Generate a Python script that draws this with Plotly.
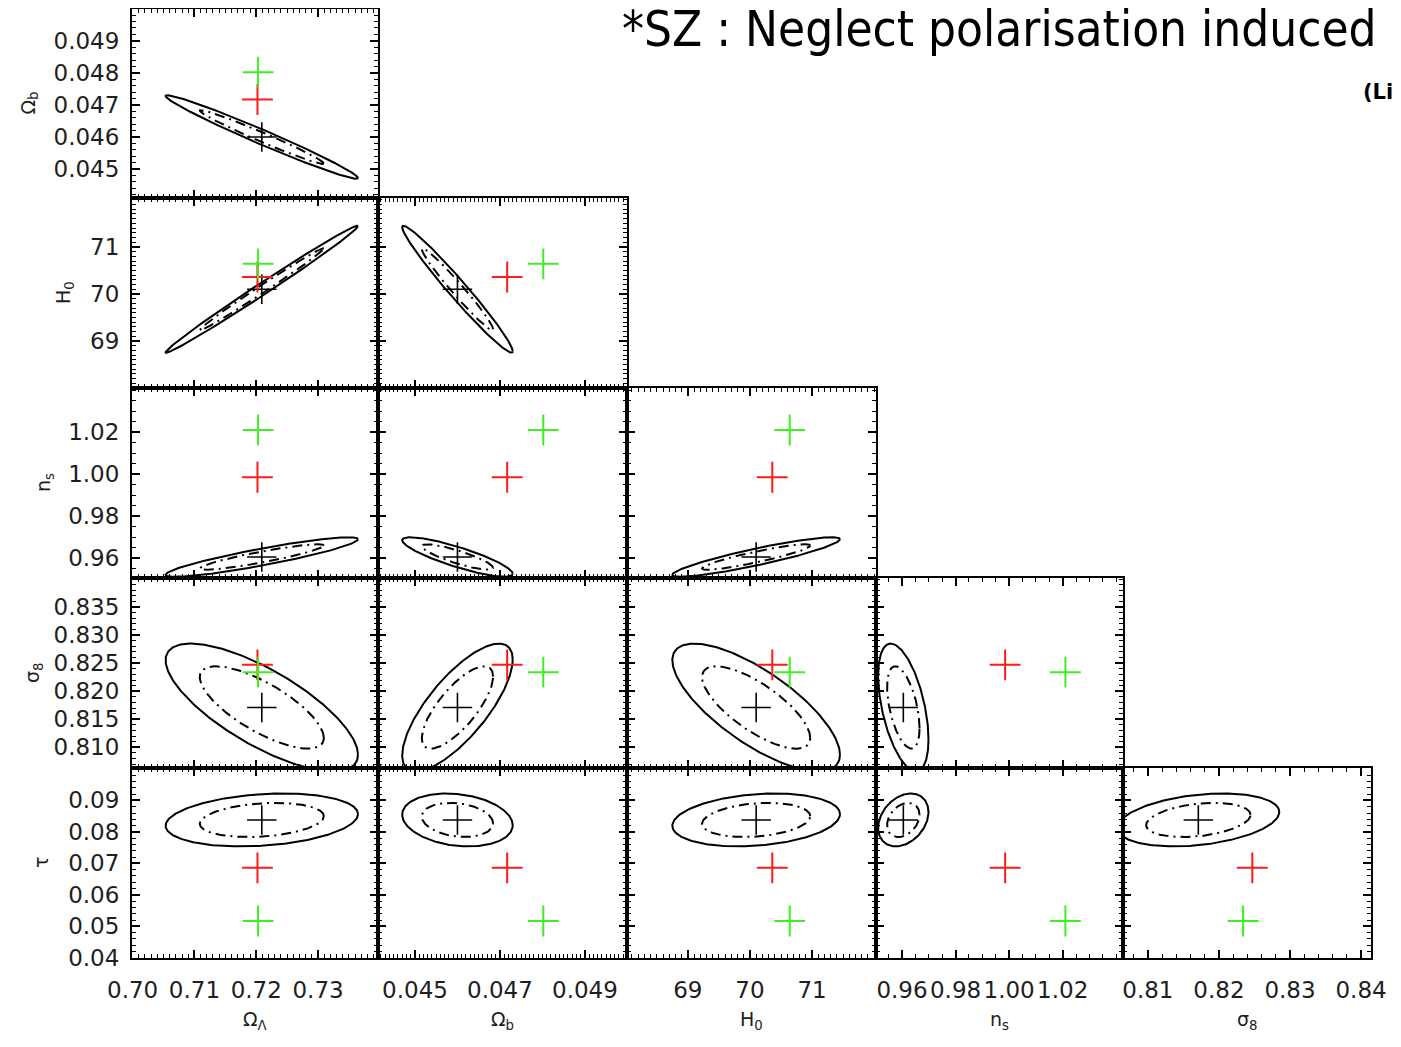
import numpy as np
import plotly.graph_objects as go

# ---------------- data ----------------
x_params = ["Omega_L", "Omega_b", "H0", "n_s", "sigma_8"]   # columns
y_params = ["Omega_b", "H0", "n_s", "sigma_8", "tau"]       # rows

param_label = {
    "Omega_L": "Ω<sub>Λ</sub>", "Omega_b": "Ω<sub>b</sub>", "H0": "H<sub>0</sub>",
    "n_s": "n<sub>s</sub>", "sigma_8": "σ<sub>8</sub>", "tau": "τ",
}

# fitted (black cross) values and 1-sigma widths
fit_center = {"Omega_L": 0.7209, "Omega_b": 0.04600, "H0": 70.10,
              "n_s": 0.9605, "sigma_8": 0.8171, "tau": 0.0838}
fit_sigma = {"Omega_L": 0.01004, "Omega_b": 0.000839, "H0": 0.871,
             "n_s": 0.00606, "sigma_8": 0.00735, "tau": 0.00542}
# red and green reference crosses
red_values = {"Omega_L": 0.7202, "Omega_b": 0.04717, "H0": 70.36,
              "n_s": 0.9985, "sigma_8": 0.8247, "tau": 0.0686}
green_values = {"Omega_L": 0.7203, "Omega_b": 0.04802, "H0": 70.64,
                "n_s": 1.021, "sigma_8": 0.8234, "tau": 0.0517}
# correlation coefficients (row param, column param)
correlation = {
    ("Omega_b", "Omega_L"): -0.982,
    ("H0", "Omega_L"): 0.994,
    ("n_s", "Omega_L"): 0.90,
    ("sigma_8", "Omega_L"): -0.74,
    ("tau", "Omega_L"): 0.22,
    ("H0", "Omega_b"): -0.977,
    ("n_s", "Omega_b"): -0.85,
    ("sigma_8", "Omega_b"): 0.75,
    ("tau", "Omega_b"): -0.20,
    ("n_s", "H0"): 0.90,
    ("sigma_8", "H0"): -0.74,
    ("tau", "H0"): 0.22,
    ("sigma_8", "n_s"): -0.50,
    ("tau", "n_s"): 0.30,
    ("tau", "sigma_8"): 0.30,
}
# contour scale factors: inner (dash-dot), outer (solid)
contour_levels = [1.0, 1.55]

# tick labels
x_tickvals = {
    "Omega_L": [0.70, 0.71, 0.72, 0.73],
    "Omega_b": [0.045, 0.047, 0.049],
    "H0": [69, 70, 71],
    "n_s": [0.96, 0.98, 1.00, 1.02],
    "sigma_8": [0.81, 0.82, 0.83, 0.84],
}
x_ticktext = {
    "Omega_L": ["0.70", "0.71", "0.72", "0.73"],
    "Omega_b": ["0.045", "0.047", "0.049"],
    "H0": ["69", "70", "71"],
    "n_s": ["0.96", "0.98", "1.00", "1.02"],
    "sigma_8": ["0.81", "0.82", "0.83", "0.84"],
}
y_tickvals = {
    "Omega_b": [0.045, 0.046, 0.047, 0.048, 0.049],
    "H0": [69, 70, 71],
    "n_s": [0.96, 0.98, 1.00, 1.02],
    "sigma_8": [0.810, 0.815, 0.820, 0.825, 0.830, 0.835],
    "tau": [0.04, 0.05, 0.06, 0.07, 0.08, 0.09],
}
y_ticktext = {
    "Omega_b": ["0.045", "0.046", "0.047", "0.048", "0.049"],
    "H0": ["69", "70", "71"],
    "n_s": ["0.96", "0.98", "1.00", "1.02"],
    "sigma_8": ["0.810", "0.815", "0.820", "0.825", "0.830", "0.835"],
    "tau": ["0.04", "0.05", "0.06", "0.07", "0.08", "0.09"],
}

# ---------------- layout settings ----------------
OFF = 8                      # page body margin
W, H = 1401 - OFF, 1047 - OFF
x_range = {"Omega_L": [0.6999, 0.7397], "Omega_b": [0.04413, 0.04999],
           "H0": [68.02, 72.03], "n_s": [0.9503, 1.0425], "sigma_8": [0.8065, 0.8414]}
y_range = {"Omega_b": [0.0441, 0.04999], "H0": [68.0, 72.04],
           "n_s": [0.9505, 1.041], "sigma_8": [0.8063, 0.8402], "tau": [0.03995, 0.1003]}
x_minor = {"Omega_L": 0.001, "Omega_b": 0.0001, "H0": 0.1, "n_s": 0.005, "sigma_8": 0.002}
y_minor = {"Omega_b": 0.0002, "H0": 0.1, "n_s": 0.005, "sigma_8": 0.001, "tau": 0.002}

# screen-pixel positions of the panels
col_px = [(132, 378), (378, 627), (627, 876), (876, 1123), (1123, 1371)]
row_px = [(9, 198), (198, 388), (388, 578), (578, 768), (768, 958)]


def fx(p):
    return (p - OFF) / W


def fy(p):
    return 1 - (p - OFF) / H


TICKFONT = dict(family="DejaVu Sans, Liberation Sans, sans-serif", size=23, color="#1e1e1e")
RED = "#ff1a1a"
GREEN = "#3cf020"

fig = go.Figure()
layout_axes = {}


def ellipse(px, py, k, n=240):
    t = np.linspace(0, 2 * np.pi, n)
    mx, my = fit_center[px], fit_center[py]
    sx, sy = fit_sigma[px], fit_sigma[py]
    rho = correlation[(py, px)]
    xs = mx + k * sx * np.cos(t)
    ys = my + k * sy * (rho * np.cos(t) + np.sqrt(1 - rho ** 2) * np.sin(t))
    return xs, ys


n = 0
for r, py in enumerate(y_params):
    for c in range(r + 1):
        px = x_params[c]
        n += 1
        xa = "x" if n == 1 else f"x{n}"
        ya = "y" if n == 1 else f"y{n}"
        xkey = "xaxis" if n == 1 else f"xaxis{n}"
        ykey = "yaxis" if n == 1 else f"yaxis{n}"

        common = dict(ticks="inside", ticklen=8, tickwidth=1.5, tickcolor="black",
                      showline=True, linecolor="black", linewidth=2, mirror="allticks",
                      showgrid=False, zeroline=False, tickfont=TICKFONT, tickmode="array",
                      automargin=False, tickangle=0)
        layout_axes[xkey] = dict(
            common, domain=[fx(col_px[c][0]), fx(col_px[c][1])], anchor=ya,
            range=x_range[px], tickvals=x_tickvals[px], ticktext=x_ticktext[px],
            showticklabels=(r == len(y_params) - 1), ticklabelstandoff=10,
            minor=dict(dtick=x_minor[px], tick0=0, ticks="inside", ticklen=4,
                       tickwidth=1, tickcolor="black", showgrid=False))
        layout_axes[ykey] = dict(
            common, domain=[fy(row_px[r][1]), fy(row_px[r][0])], anchor=xa,
            range=y_range[py], tickvals=y_tickvals[py], ticktext=y_ticktext[py],
            showticklabels=(c == 0), ticklabelstandoff=6,
            minor=dict(dtick=y_minor[py], tick0=0, ticks="inside", ticklen=4,
                       tickwidth=1, tickcolor="black", showgrid=False))

        # contours
        for k, dash in zip(contour_levels, ["10px,5px,2px,5px", "solid"]):
            ex, ey = ellipse(px, py, k)
            fig.add_trace(go.Scatter(x=ex, y=ey, mode="lines", xaxis=xa, yaxis=ya,
                                     line=dict(color="black", width=2, dash=dash),
                                     showlegend=False, hoverinfo="skip"))
        # crosses
        for vals, col, size, lw in [(fit_center, "black", 21, 1.6),
                                    (red_values, RED, 22, 2),
                                    (green_values, GREEN, 22, 2)]:
            fig.add_trace(go.Scatter(x=[vals[px]], y=[vals[py]], mode="markers",
                                     xaxis=xa, yaxis=ya, showlegend=False,
                                     marker=dict(symbol="cross-thin", size=size,
                                                 line=dict(color=col, width=lw))))

annotations = []
# x axis titles
for c, p in enumerate(x_params):
    annotations.append(dict(text=param_label[p], x=fx((col_px[c][0] + col_px[c][1]) / 2),
                            y=fy(1020), xref="paper", yref="paper",
                            xanchor="center", yanchor="middle", showarrow=False,
                            font=dict(family="DejaVu Sans, sans-serif", size=19, color="#1e1e1e")))
# y axis titles
y_title_x = [29, 64, 44, 33, 41]
for r, p in enumerate(y_params):
    annotations.append(dict(text=param_label[p], x=fx(y_title_x[r]),
                            y=fy((row_px[r][0] + row_px[r][1]) / 2),
                            xref="paper", yref="paper", textangle=-90,
                            xanchor="center", yanchor="middle", showarrow=False,
                            font=dict(family="DejaVu Sans, sans-serif", size=19, color="#1e1e1e")))
# title texts
annotations.append(dict(text="*SZ : Neglect polarisation induced", x=fx(620), y=fy(29),
                        xref="paper", yref="paper", xanchor="left", yanchor="middle",
                        showarrow=False,
                        font=dict(family="DejaVu Sans Condensed, Liberation Sans Narrow, Liberation Sans, sans-serif",
                                  size=49, color="black")))
annotations.append(dict(text="<b>(Li</b>", x=fx(1361), y=fy(92),
                        xref="paper", yref="paper", xanchor="left", yanchor="middle",
                        showarrow=False,
                        font=dict(family="DejaVu Sans, sans-serif", size=21, color="black")))

fig.update_layout(width=W, height=H, margin=dict(l=0, r=0, t=0, b=0),
                  paper_bgcolor="white", plot_bgcolor="white",
                  annotations=annotations, **layout_axes)

fig.write_html("out.html")
